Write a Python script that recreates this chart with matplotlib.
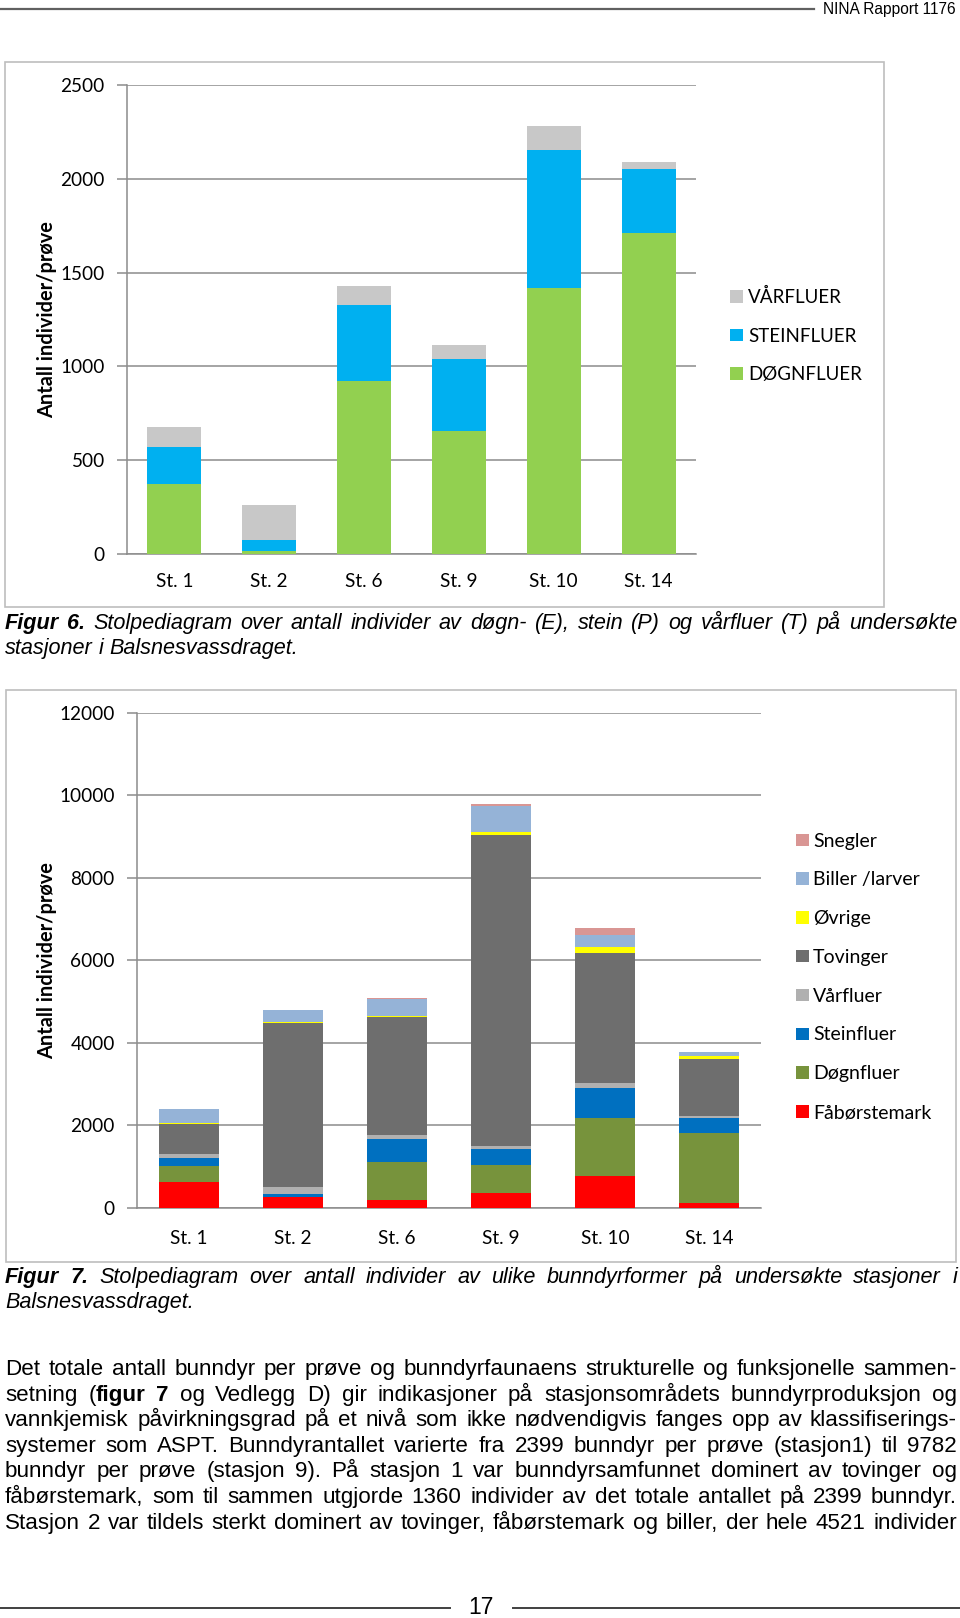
import matplotlib
matplotlib.use('Agg')
import matplotlib.pyplot as plt
import numpy as np
from matplotlib.transforms import Affine2D
from matplotlib.patches import Rectangle
from matplotlib.lines import Line2D

W, H = 960, 1618

# ---------------- data ----------------
stations = ['St. 1', 'St. 2', 'St. 6', 'St. 9', 'St. 10', 'St. 14']

# Figur 6 (EPT)
ept_names = ['DØGNFLUER', 'STEINFLUER', 'VÅRFLUER']
dogn6 = [372, 14, 923, 655, 1416, 1713]
stein6 = [201, 61, 402, 387, 736, 340]
vaar6 = [105, 186, 102, 73, 127, 37]
ept_colors = ['#92D050', '#00B0F0', '#C8C8C8']
yticks6 = [0, 500, 1000, 1500, 2000, 2500]

# Figur 7 (all groups)
grp_names = ['Fåbørstemark', 'Døgnfluer', 'Steinfluer', 'Vårfluer', 'Tovinger',
             'Øvrige', 'Biller /larver', 'Snegler']
faab = [638, 258, 186, 372, 767, 121]
dogn7 = [372, 14, 921, 662, 1406, 1704]
stein7 = [201, 61, 557, 388, 735, 364]
vaar7 = [105, 186, 105, 80, 129, 37]
tov = [722, 3975, 2851, 7544, 3134, 1392]
ovr = [25, 8, 40, 57, 145, 65]
bill = [330, 288, 412, 630, 299, 100]
sneg = [6, 4, 8, 48, 162, 5]
grp_colors = ['#FF0000', '#77933C', '#0070C0', '#B0B0B0', '#6E6E6E',
              '#FFFF00', '#95B3D7', '#D99694']
yticks7 = [0, 2000, 4000, 6000, 8000, 10000, 12000]

ylabel = 'Antall individer/prøve'

cap6 = ['**Figur 6.** Stolpediagram over antall individer av døgn- (E), stein (P) og vårfluer (T) på undersøkte',
        'stasjoner i Balsnesvassdraget.']
cap7 = ['**Figur 7.** Stolpediagram over antall individer av ulike bunndyrformer på undersøkte stasjoner i',
        'Balsnesvassdraget.']
para = [
    'Det totale antall bunndyr per prøve og bunndyrfaunaens strukturelle og funksjonelle sammen-',
    'setning (**figur 7** og Vedlegg D) gir indikasjoner på stasjonsområdets bunndyrproduksjon og',
    'vannkjemisk påvirkningsgrad på et nivå som ikke nødvendigvis fanges opp av klassifiserings-',
    'systemer som ASPT. Bunndyrantallet varierte fra 2399 bunndyr per prøve (stasjon1) til 9782',
    'bunndyr per prøve (stasjon 9). På stasjon 1 var bunndyrsamfunnet dominert av tovinger og',
    'fåbørstemark, som til sammen utgjorde 1360 individer av det totale antallet på 2399 bunndyr.',
    'Stasjon 2 var tildels sterkt dominert av tovinger, fåbørstemark og biller, der hele 4521 individer',
]

# ---------------- setup ----------------
CH = ['Lato', 'DejaVu Sans']
TX = ['Liberation Sans', 'DejaVu Sans']
GRID = '#8C8C8C'

fig = plt.figure(figsize=(W / 100, H / 100), dpi=100)
fig.patch.set_facecolor('white')
T = Affine2D().scale(1, -1).translate(0, H)   # pixel coords, y from top
renderer = fig.canvas.get_renderer()


def px_axes(l, t, r, b):
    return fig.add_axes([l / W, (H - b) / H, (r - l) / W, (b - t) / H])


def hline(x0, x1, y, color, lw):
    fig.add_artist(Line2D([x0, x1], [y, y], transform=T, color=color, lw=lw))


def frame(x0, y0, x1, y1):
    fig.add_artist(Rectangle((x0, y0), x1 - x0, y1 - y0, transform=T,
                             facecolor='none', edgecolor='#BEBEBE', lw=1.2))


def style_axes(ax, yticks, xpad):
    ax.set_xlim(-0.5, len(stations) - 0.5)
    ax.set_ylim(yticks[0], yticks[-1])
    ax.set_yticks(yticks)
    ax.set_yticklabels([str(v) for v in yticks], family=CH, fontsize=13.7)
    ax.set_xticks(range(len(stations)))
    ax.set_xticklabels(stations, family=CH, fontsize=13.7)
    ax.tick_params(axis='x', length=0, pad=xpad)
    ax.tick_params(axis='y', length=7, width=1.1, color=GRID, pad=9)
    ax.yaxis.grid(True, color=GRID, lw=1.1)
    ax.set_axisbelow(True)
    for s in ['top', 'right']:
        ax.spines[s].set_visible(False)
    for s in ['left', 'bottom']:
        ax.spines[s].set_color(GRID)
        ax.spines[s].set_linewidth(1.1)
    ax.set_facecolor('none')


def stacked(ax, series, colors, width):
    x = np.arange(len(stations))
    bottom = np.zeros(len(stations))
    for vals, c in zip(series, colors):
        ax.bar(x, vals, width=width, bottom=bottom, color=c, edgecolor='none', zorder=3)
        bottom = bottom + np.array(vals)


def manual_legend(names, colors, x_sq, x_txt, base0, step, sq, fs):
    for i, (n, c) in enumerate(zip(names, colors)):
        yb = base0 + i * step
        fig.add_artist(Rectangle((x_sq, yb - sq - 0.5), sq, sq, transform=T,
                                 facecolor=c, edgecolor='none'))
        fig.text(x_txt, yb, n, transform=T, ha='left', va='baseline',
                 family=CH, fontsize=fs, color='black')


# ---------------- text helpers ----------------
def parse(line):
    words, bold = [], False
    for w in line.split(' '):
        pieces = []
        for i, p in enumerate(w.split('**')):
            if i > 0:
                bold = not bold
            if p:
                pieces.append((p, bold))
        words.append(pieces)
    return words


def measure(s, **kw):
    t = fig.text(0, 0, s, **kw)
    w = t.get_window_extent(renderer).width
    t.remove()
    return w


def draw_line(line, x0, x1, yb, fs, italic=False, justify=True):
    words = parse(line)
    base = dict(fontsize=fs, family=TX, style='italic' if italic else 'normal')
    widths = [[measure(t, weight='bold' if b else 'normal', **base) for t, b in wd]
              for wd in words]
    total = sum(sum(ws) for ws in widths)
    n = len(words)
    if justify and n > 1:
        gap = (x1 - x0 - total) / (n - 1)
    else:
        gap = measure('a a', **base) - measure('aa', **base)
    x = x0
    for wd, ws in zip(words, widths):
        for (t, b), w in zip(wd, ws):
            fig.text(x, yb, t, transform=T, ha='left', va='baseline',
                     weight='bold' if b else 'normal', color='black', **base)
            x += w
        x += gap


# ---------------- header / footer ----------------
hline(0, 814, 9, '#606060', 1.6)
fig.text(956, 14, 'NINA Rapport 1176', transform=T, ha='right', va='baseline',
         family=TX, fontsize=11.2, color='black')
hline(0, 450, 1608, '#404040', 1.4)
hline(513, 960, 1608, '#404040', 1.4)
fig.text(481, 1614, '17', transform=T, ha='center', va='baseline',
         family=TX, fontsize=16.5, color='black')

# ---------------- Figur 6 ----------------
frame(5, 62, 884, 607)
ax1 = px_axes(127, 85, 696, 554)
style_axes(ax1, yticks6, 14)
stacked(ax1, [dogn6, stein6, vaar6], ept_colors, 0.57)
fig.text(47, 320, ylabel, transform=T, rotation=90, ha='center', va='center',
         family=CH, fontsize=14.4, weight='bold')
manual_legend(ept_names[::-1], ept_colors[::-1], 730, 748, 303, 38.5, 12.5, 13.5)

# ---------------- Figur 7 ----------------
frame(6, 690, 956, 1262)
ax2 = px_axes(137, 712.7, 761, 1208)
style_axes(ax2, yticks7, 15.5)
stacked(ax2, [faab, dogn7, stein7, vaar7, tov, ovr, bill, sneg], grp_colors, 0.57)
fig.text(47, 961, ylabel, transform=T, rotation=90, ha='center', va='center',
         family=CH, fontsize=14.4, weight='bold')
manual_legend(grp_names[::-1], grp_colors[::-1], 796, 813, 846.7, 38.76, 12.5, 14)

# ---------------- captions & paragraph ----------------
draw_line(cap6[0], 5, 957, 629, 15.6, italic=True, justify=True)
draw_line(cap6[1], 5, 957, 654, 15.6, italic=True, justify=False)
draw_line(cap7[0], 5, 957, 1283, 15.6, italic=True, justify=True)
draw_line(cap7[1], 5, 957, 1308, 15.6, italic=True, justify=False)
for i, ln in enumerate(para):
    draw_line(ln, 5, 957, 1375 + i * 25.6, 16.1, italic=False, justify=True)

fig.savefig('out.png', dpi=100, facecolor='white')
